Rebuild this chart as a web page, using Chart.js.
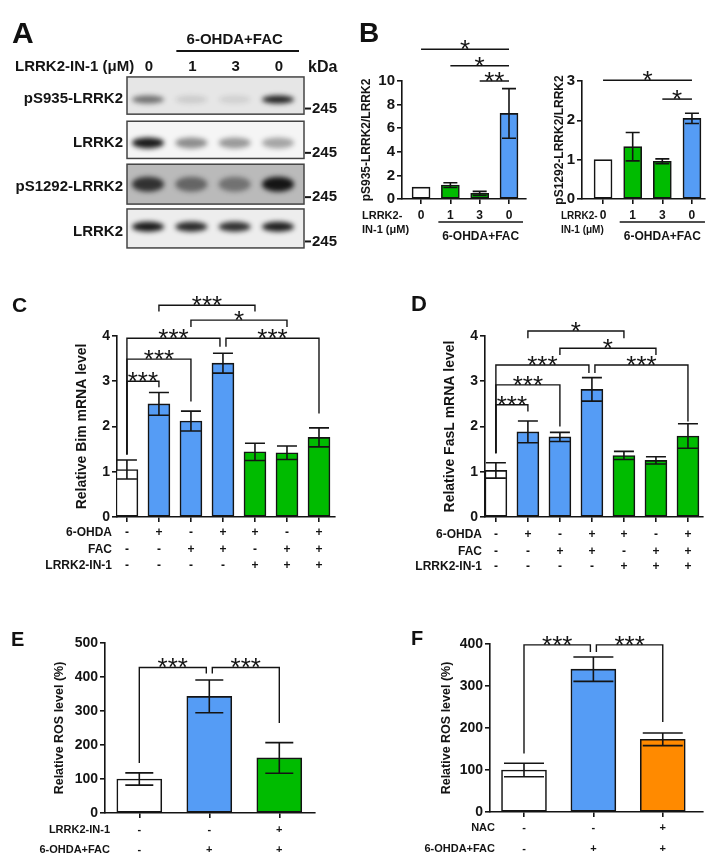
<!DOCTYPE html>
<html>
<head>
<meta charset="utf-8">
<script src="https://cdn.jsdelivr.net/npm/chart.js@4.4.1/dist/chart.umd.min.js"></script>
<style>
  body { margin: 0; background: #fff; width: 719px; height: 864px; position: relative; overflow: hidden; }
  canvas { position: absolute; }
  .tag { position: absolute; z-index: 2; font-family: "Liberation Sans", Arial, sans-serif; font-weight: bold; line-height: 1; color: #111; }
</style>
</head>
<body>
<canvas id="blot"></canvas>
<canvas id="chartB1"></canvas>
<canvas id="chartB2"></canvas>
<canvas id="chartC"></canvas>
<canvas id="chartD"></canvas>
<canvas id="chartE"></canvas>
<canvas id="chartF"></canvas>
<div class="tag" style="left:12px;top:18px;font-size:30px">A</div>
<div class="tag" style="left:359px;top:19px;font-size:28px">B</div>
<div class="tag" style="left:12px;top:294px;font-size:21px">C</div>
<div class="tag" style="left:411px;top:293px;font-size:22px">D</div>
<div class="tag" style="left:11px;top:629px;font-size:20px">E</div>
<div class="tag" style="left:411px;top:628px;font-size:20px">F</div>
<script>
// ---- data ----

// A: western blot, band darkness per lane (0 = nothing, 1 = black)
const blotLanes = ['0', '1', '3', '0'];
const blotRows = ['pS935-LRRK2', 'LRRK2', 'pS1292-LRRK2', 'LRRK2'];
const blotBand = [
  [0.55, 0.12, 0.1, 0.92],
  [0.95, 0.45, 0.4, 0.35],
  [0.8, 0.5, 0.42, 0.97],
  [0.95, 0.88, 0.85, 0.93]
];
const blotShift = [0.09, 0.07, 0, -0.04];   // band offset inside its strip (rows)
const blotBack = [0.1, 0.04, 0.27, 0.07];   // strip background darkness

// B
const bLanes = ['0', '1', '3', '0'];
const bS935 = [1, 1.18, 0.48, 7.25];
const bS935Err = [0, 0.2, 0.17, 2.1];
const bS1292 = [1, 1.33, 0.96, 2.05];
const bS1292Err = [0, 0.36, 0.06, 0.13];

// C, D
const cdOHDA = ['-', '+', '-', '+', '+', '-', '+'];
const cdFAC = ['-', '-', '+', '+', '-', '+', '+'];
const cdInhib = ['-', '-', '-', '-', '+', '+', '+'];
const bimLevel = [1.05, 2.5, 2.12, 3.4, 1.44, 1.42, 1.76];
const bimErr = [0.21, 0.25, 0.22, 0.22, 0.19, 0.15, 0.21];
const fasLevel = [1.03, 1.88, 1.77, 2.82, 1.36, 1.25, 1.79];
const fasErr = [0.17, 0.24, 0.1, 0.26, 0.09, 0.08, 0.27];

// E, F
const eInhib = ['-', '-', '+'];
const eTreat = ['-', '+', '+'];
const eROS = [100, 343, 162];
const eErr = [18, 48, 45];
const fNAC = ['-', '-', '+'];
const fTreat = ['-', '+', '+'];
const fROS = [100, 340, 173];
const fErr = [16, 29, 15];

// significance: [from bar, to bar, height, left leg end, right leg end, stars]
const bBrk935 = [[0, 3, 12.7, null, null, '*'], [1, 3, 11.3, null, null, '*'], [2, 3, 10.0, null, null, '**']];
const bBrk1292 = [[0, 3, 3.02, null, null, '*'], [2, 3, 2.54, null, null, '*']];
const bimBrk = [[0, 1, 3.0, 1.38, 2.87, '***'], [0, 2, 3.49, 1.38, 2.55, '***'], [0, 3, 3.95, 1.38, 3.76, '***'],
                [3, 6, 3.95, 3.76, 2.29, '***'], [1, 4, 4.68, 4.54, 4.54, '***'], [2, 5, 4.35, 4.2, 4.2, '*']];
const fasBrk = [[0, 1, 2.48, 1.41, 2.33, '***'], [0, 2, 2.92, 1.41, 2.0, '***'], [0, 3, 3.36, 1.41, 3.18, '***'],
                [3, 6, 3.36, 3.18, 2.11, '***'], [1, 4, 4.11, 3.95, 3.95, '*'], [2, 5, 3.73, 3.58, 3.58, '*']];
const eBrk = [[0, 1, 428, 147, 410, '***'], [1, 2, 428, 410, 265, '***']];
const fBrk = [[0, 1, 398, 139, 381, '***'], [1, 2, 398, 381, 214, '***']];

const WHITE = '#ffffff', BLUE = '#559cf5', GREEN = '#00bb00', ORANGE = '#ff8a00';
const bColors = [WHITE, GREEN, GREEN, BLUE];
const cdColors = [WHITE, BLUE, BLUE, BLUE, GREEN, GREEN, GREEN];
const eColors = [WHITE, BLUE, GREEN];
const fColors = [WHITE, BLUE, ORANGE];

// ---- drawing ----
const FONT = '"Liberation Sans", Arial, sans-serif';
const INK = '#141414';

function put(cv, box) {
  cv.style.left = box[0] + 'px';
  cv.style.top = box[1] + 'px';
  cv.width = box[2];
  cv.height = box[3];
}

function text(ctx, s, x, y, size, align, weight, base) {
  ctx.font = (weight || 'bold') + ' ' + size + 'px ' + FONT;
  ctx.textAlign = align || 'center';
  ctx.textBaseline = base || 'middle';
  ctx.fillStyle = INK;
  ctx.fillText(s, x, y);
}

function drawExtras(chart, p) {
  const ctx = chart.ctx, xs = chart.scales.x, ys = chart.scales.y;
  const ox = p.box[0], oy = p.box[1];
  const px = i => xs.getPixelForValue(i), py = v => ys.getPixelForValue(v);
  ctx.save();
  ctx.strokeStyle = INK;
  ctx.lineWidth = p.line;
  // error bars
  p.errors.forEach((e, i) => {
    if (!e) return;
    const x = px(i), hi = py(p.values[i] + e), lo = py(p.values[i] - e), c = p.capW / 2;
    ctx.beginPath();
    ctx.moveTo(x, hi); ctx.lineTo(x, lo);
    ctx.moveTo(x - c, hi); ctx.lineTo(x + c, hi);
    ctx.moveTo(x - c, lo); ctx.lineTo(x + c, lo);
    ctx.stroke();
  });
  // brackets + stars
  ctx.lineWidth = p.brkLine;
  p.brackets.forEach(br => {
    const [a, b, lvl, la, lb, stars] = br;
    const shared = k => p.brackets.some(o => o !== br && o[2] === lvl && (o[0] === k || o[1] === k));
    const xa = px(a) + (shared(a) ? 3 : 0), xb = px(b) - (shared(b) ? 3 : 0), y = py(lvl);
    ctx.beginPath();
    if (la !== null) { ctx.moveTo(xa, py(la)); ctx.lineTo(xa, y); } else ctx.moveTo(xa, y);
    ctx.lineTo(xb, y);
    if (lb !== null) ctx.lineTo(xb, py(lb));
    ctx.stroke();
    text(ctx, stars, (xa + xb) / 2, y + p.starDy, 26, 'center', 'normal', 'alphabetic');
  });
  // condition table under the axis
  (p.rows || []).forEach(r => {
    if (r.label) text(ctx, r.label, p.rowLabelX - ox, r.y - oy, p.rowSize, 'right');
    r.marks.forEach((m, i) => text(ctx, m, px(i), r.y - oy, p.rowSize));
  });
  (p.notes || []).forEach(n => text(ctx, n.t, n.x - ox, n.y - oy, n.size, n.align));
  if (p.group) {
    const g = p.group, x1 = px(g.from) - g.padL, x2 = px(g.to) + g.padR;
    ctx.lineWidth = 1.6;
    ctx.beginPath(); ctx.moveTo(x1, g.y - oy); ctx.lineTo(x2, g.y - oy); ctx.stroke();
    text(ctx, g.label, (x1 + x2) / 2, g.ly - oy, g.size);
  }
  ctx.restore();
}

function barPanel(id, p) {
  const cv = document.getElementById(id);
  put(cv, p.box);
  const [bx, by, bw, bh] = p.box;
  const [al, at, ar, ab] = p.area;
  const scaleLeft = p.titleX - p.titleSize * 0.6;
  const xH = 6;
  return new Chart(cv, {
    type: 'bar',
    data: {
      datasets: [{
        data: p.values.map((v, i) => ({ x: i, y: v })),
        backgroundColor: p.colors,
        borderColor: INK,
        borderWidth: p.line,
        borderSkipped: false,
        barThickness: p.barW
      }]
    },
    options: {
      responsive: false,
      animation: false,
      events: [],
      layout: { padding: { left: scaleLeft - bx, top: at - by, right: bx + bw - ar, bottom: by + bh - ab - xH } },
      plugins: { legend: { display: false }, tooltip: { enabled: false } },
      scales: {
        x: {
          type: 'linear', min: p.xMin, max: p.xMax, offset: false,
          afterBuildTicks: s => { s.ticks = p.values.map((v, i) => ({ value: i })); },
          afterFit: s => { s.height = xH; },
          ticks: { display: false },
          grid: { display: true, offset: false, drawOnChartArea: false, drawTicks: true, tickLength: 5, color: INK, lineWidth: p.line },
          border: { display: true, color: INK, width: p.line }
        },
        y: {
          min: 0, max: p.yMax,
          afterFit: s => { s.width = al - scaleLeft; },
          ticks: { stepSize: p.step, color: INK, padding: 2, font: { family: FONT, size: p.tickSize, weight: 'bold' } },
          grid: { drawOnChartArea: false, tickLength: 5, color: INK, lineWidth: p.line },
          border: { color: INK, width: p.line },
          title: { display: true, text: p.title, color: INK, padding: 0, font: { family: FONT, size: p.titleSize, weight: 'bold', lineHeight: 1.2 } }
        }
      }
    },
    plugins: [{ id: 'extras', afterDatasetsDraw: chart => drawExtras(chart, p) }]
  });
}

// A - blot
const blotPoints = [];
blotRows.forEach((r, i) => blotLanes.forEach((l, k) => blotPoints.push({ x: k, y: i + blotShift[i] })));

function drawBlot(chart) {
  const ctx = chart.ctx, ca = chart.chartArea, xs = chart.scales.x, ys = chart.scales.y;
  const half = [0.42, 0.42, 0.45, 0.44];
  const bandH = [8, 11, 15, 10];
  const pts = chart.getDatasetMeta(0).data;
  const w = ca.right - ca.left;
  blotRows.forEach((name, r) => {
    const top = ys.getPixelForValue(r - half[r]), bot = ys.getPixelForValue(r + half[r]);
    const g = Math.round(255 * (1 - blotBack[r]));
    ctx.save();
    ctx.fillStyle = `rgb(${g},${g},${g})`;
    ctx.fillRect(ca.left, top, w, bot - top);
    ctx.beginPath(); ctx.rect(ca.left, top, w, bot - top); ctx.clip();
    ctx.filter = 'blur(2.5px)';
    blotLanes.forEach((l, k) => {
      const el = pts[r * blotLanes.length + k];
      ctx.fillStyle = `rgba(15,15,15,${blotBand[r][k]})`;
      ctx.beginPath(); ctx.ellipse(el.x, el.y, 16, bandH[r] / 2, 0, 0, Math.PI * 2); ctx.fill();
    });
    ctx.restore();
    ctx.save();
    ctx.strokeStyle = '#444'; ctx.lineWidth = 1.5;
    ctx.strokeRect(ca.left, top, w, bot - top);
    text(ctx, name, 123, ys.getPixelForValue(r) + 3, 15, 'right');
    const my = ys.getPixelForValue(r) + 13;
    ctx.strokeStyle = INK; ctx.lineWidth = 2;
    ctx.beginPath(); ctx.moveTo(ca.right + 1, my); ctx.lineTo(ca.right + 7, my); ctx.stroke();
    text(ctx, '245', ca.right + 8, my, 15, 'left');
    ctx.restore();
  });
  blotLanes.forEach((l, k) => text(ctx, l, xs.getPixelForValue(k) + 1, 67, 15));
  text(ctx, 'LRRK2-IN-1 (\u03bcM)', 15, 67, 15, 'left');
  text(ctx, 'kDa', 308, 68, 16, 'left');
  const x1 = xs.getPixelForValue(1) - 15, x2 = xs.getPixelForValue(3) + 21;
  ctx.save();
  ctx.strokeStyle = INK; ctx.lineWidth = 2.2;
  ctx.beginPath(); ctx.moveTo(x1, 51); ctx.lineTo(x2, 51); ctx.stroke();
  ctx.restore();
  text(ctx, '6-OHDA+FAC', (x1 + x2) / 2 - 3, 40, 15);
}

const blotCv = document.getElementById('blot');
put(blotCv, [0, 0, 360, 280]);
new Chart(blotCv, {
  type: 'scatter',
  data: { datasets: [{ data: blotPoints, pointRadius: 0 }] },
  options: {
    responsive: false, animation: false, events: [],
    layout: { padding: { left: 127, top: 73.4, right: 56, bottom: 29.4 } },
    plugins: { legend: { display: false }, tooltip: { enabled: false } },
    scales: {
      x: { type: 'linear', display: false, min: -0.485, max: 3.6 },
      y: { type: 'linear', display: false, min: -0.5, max: 3.5, reverse: true }
    }
  },
  plugins: [{ id: 'blot', afterDatasetsDraw: drawBlot }]
});

barPanel('chartB1', {
  box: [352, 0, 188, 250], area: [402, 81, 526, 199],
  values: bS935, errors: bS935Err, colors: bColors,
  xMin: -0.65, xMax: 3.58, yMax: 10, step: 2,
  title: 'pS935-LRRK2/LRRK2', titleX: 367, titleSize: 12, tickSize: 15,
  barW: 18, capW: 14, line: 1.6, brkLine: 1.5, starDy: 9,
  brackets: bBrk935,
  rows: [{ label: null, marks: bLanes, y: 216 }], rowLabelX: 0, rowSize: 12,
  notes: [{ t: 'LRRK2-', x: 362, y: 216, size: 11, align: 'left' }, { t: 'IN-1 (\u03bcM)', x: 362, y: 230, size: 11, align: 'left' }],
  group: { from: 1, to: 3, y: 222, padL: 12, padR: 14, label: '6-OHDA+FAC', ly: 237, size: 12 }
});

barPanel('chartB2', {
  box: [540, 0, 179, 250], area: [582, 81, 705, 199],
  values: bS1292, errors: bS1292Err, colors: bColors,
  xMin: -0.71, xMax: 3.44, yMax: 3, step: 1,
  title: 'pS1292-LRRK2/LRRK2', titleX: 560, titleSize: 12, tickSize: 15,
  barW: 18, capW: 14, line: 1.6, brkLine: 1.5, starDy: 9,
  brackets: bBrk1292,
  rows: [{ label: null, marks: bLanes, y: 216 }], rowLabelX: 0, rowSize: 12,
  notes: [{ t: 'LRRK2-', x: 561, y: 216, size: 10, align: 'left' }, { t: 'IN-1 (\u03bcM)', x: 561, y: 230, size: 10, align: 'left' }],
  group: { from: 1, to: 3, y: 222, padL: 13, padR: 13, label: '6-OHDA+FAC', ly: 237, size: 12 }
});

barPanel('chartC', {
  box: [0, 280, 360, 300], area: [117, 336, 335, 517],
  values: bimLevel, errors: bimErr, colors: cdColors,
  xMin: -0.31, xMax: 6.5, yMax: 4, step: 1,
  title: 'Relative Bim mRNA level', titleX: 82, titleSize: 14, tickSize: 14,
  barW: 22, capW: 20, line: 1.6, brkLine: 1.4, starDy: 9,
  brackets: bimBrk,
  rows: [{ label: '6-OHDA', marks: cdOHDA, y: 533 }, { label: 'FAC', marks: cdFAC, y: 550 }, { label: 'LRRK2-IN-1', marks: cdInhib, y: 566 }],
  rowLabelX: 112, rowSize: 12
});

barPanel('chartD', {
  box: [360, 280, 359, 300], area: [485, 336, 703, 517],
  values: fasLevel, errors: fasErr, colors: cdColors,
  xMin: -0.34, xMax: 6.47, yMax: 4, step: 1,
  title: 'Relative FasL mRNA level', titleX: 450, titleSize: 14, tickSize: 14,
  barW: 22, capW: 20, line: 1.6, brkLine: 1.4, starDy: 9,
  brackets: fasBrk,
  rows: [{ label: '6-OHDA', marks: cdOHDA, y: 535 }, { label: 'FAC', marks: cdFAC, y: 552 }, { label: 'LRRK2-IN-1', marks: cdInhib, y: 567 }],
  rowLabelX: 482, rowSize: 12
});

barPanel('chartE', {
  box: [0, 600, 360, 264], area: [105, 643, 315, 813],
  values: eROS, errors: eErr, colors: eColors,
  xMin: -0.49, xMax: 2.51, yMax: 500, step: 100,
  title: 'Relative ROS level (%)', titleX: 60, titleSize: 12.5, tickSize: 14,
  barW: 45, capW: 28, line: 1.6, brkLine: 1.4, starDy: 9,
  brackets: eBrk,
  rows: [{ label: 'LRRK2-IN-1', marks: eInhib, y: 830 }, { label: '6-OHDA+FAC', marks: eTreat, y: 850 }],
  rowLabelX: 110, rowSize: 11
});

barPanel('chartF', {
  box: [360, 600, 359, 264], area: [490, 644, 703, 812],
  values: fROS, errors: fErr, colors: fColors,
  xMin: -0.49, xMax: 2.58, yMax: 400, step: 100,
  title: 'Relative ROS level (%)', titleX: 447, titleSize: 12.5, tickSize: 14,
  barW: 45, capW: 40, line: 1.6, brkLine: 1.4, starDy: 9,
  brackets: fBrk,
  rows: [{ label: 'NAC', marks: fNAC, y: 828 }, { label: '6-OHDA+FAC', marks: fTreat, y: 849 }],
  rowLabelX: 495, rowSize: 11
});
</script>
</body>
</html>
